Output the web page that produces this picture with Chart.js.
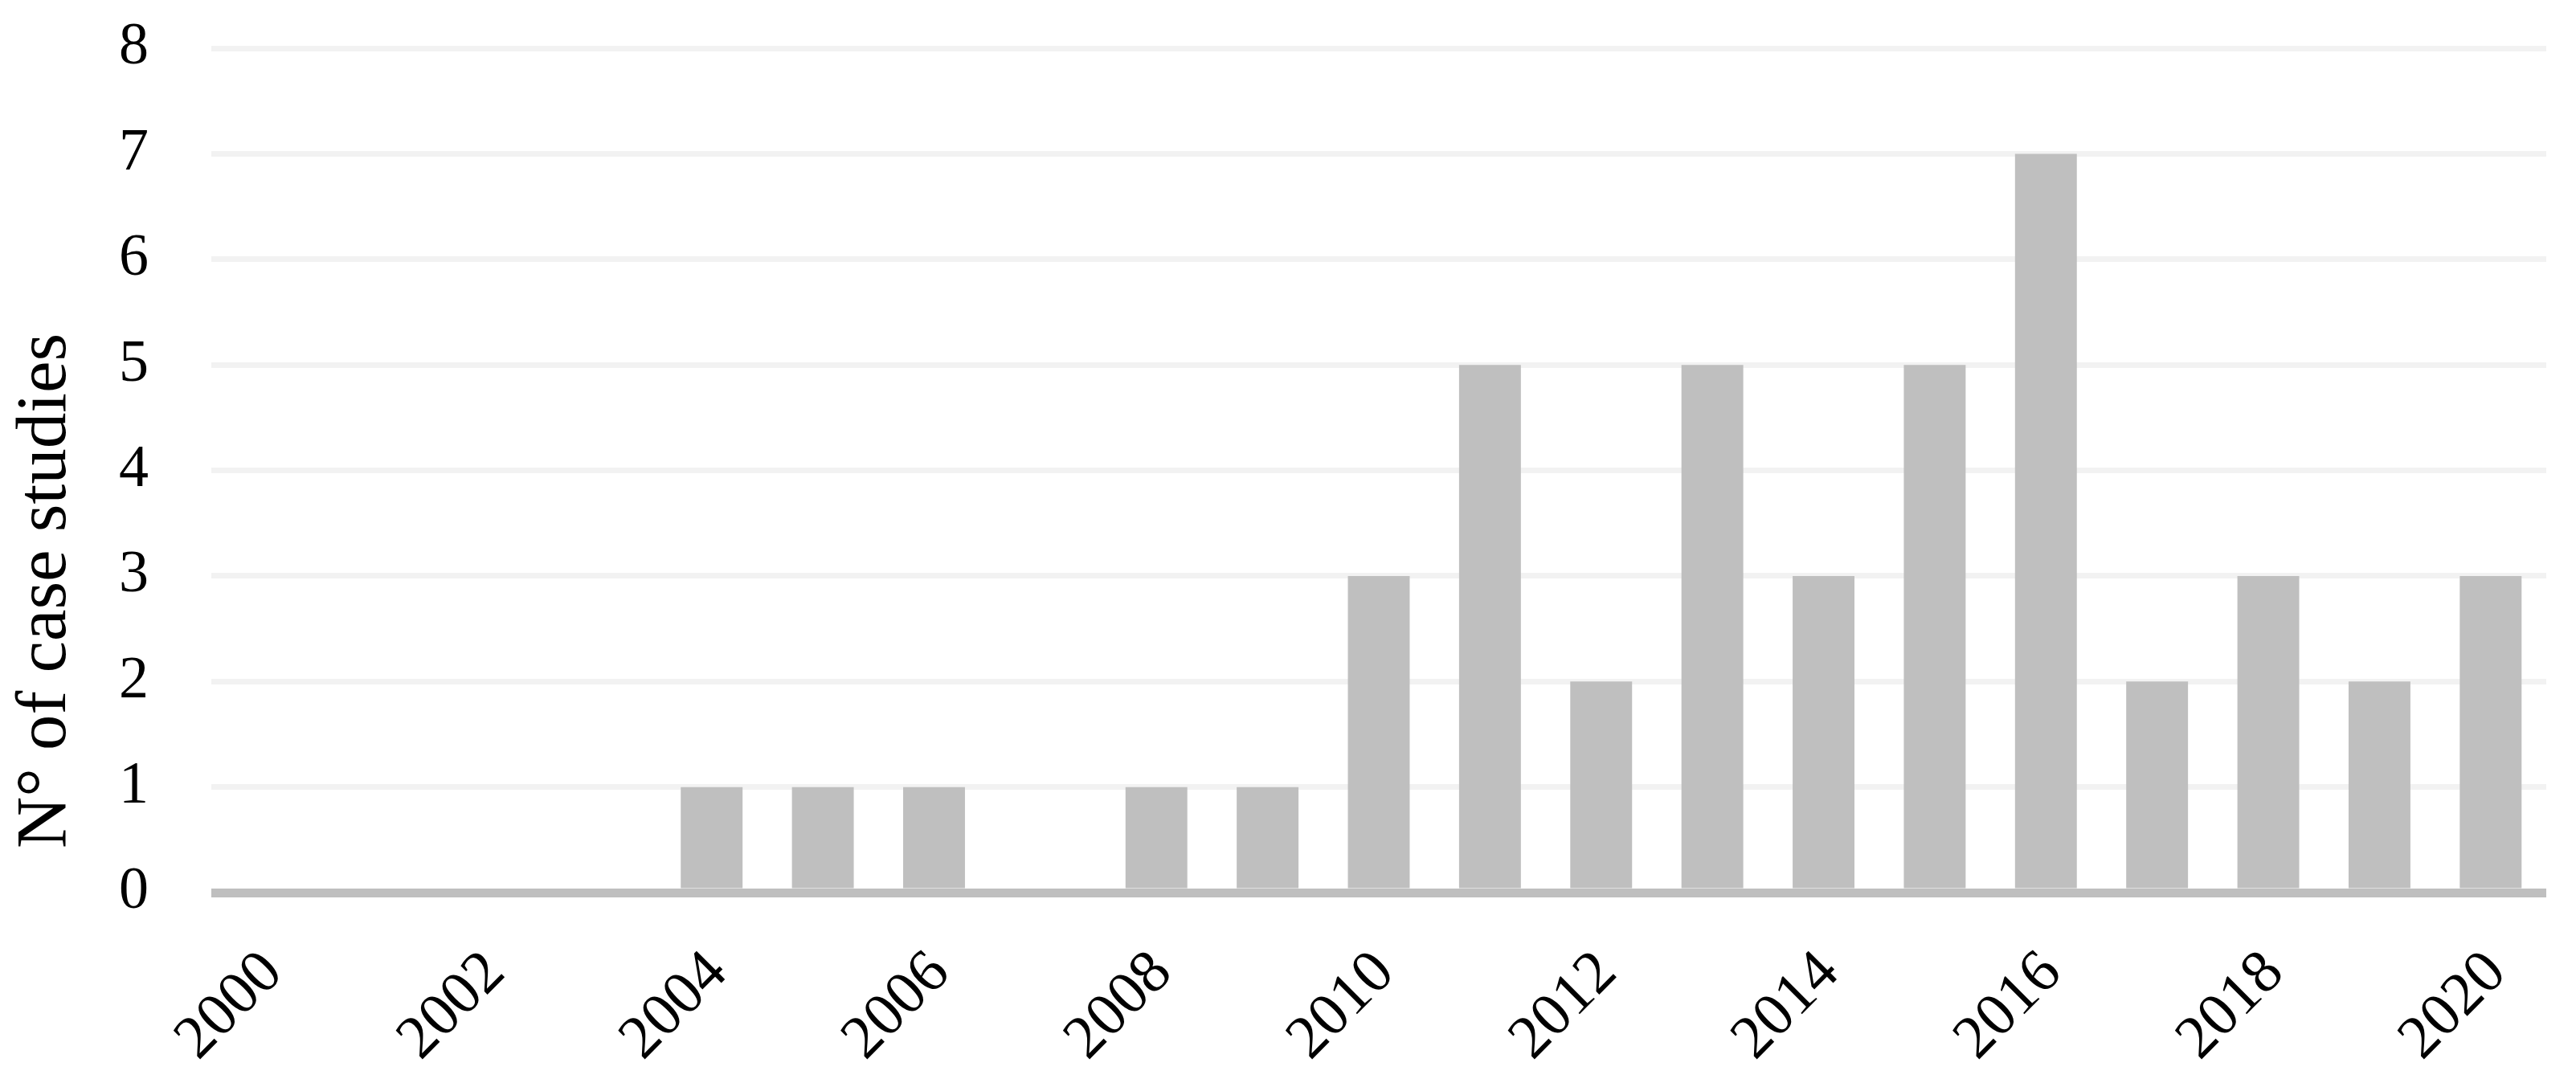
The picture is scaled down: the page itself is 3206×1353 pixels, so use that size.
<!DOCTYPE html>
<html><head><meta charset="utf-8">
<script src="https://cdn.jsdelivr.net/npm/chart.js@4.4.0/dist/chart.umd.min.js"></script>
<style>html,body{margin:0;padding:0;background:#fff;overflow:hidden}</style>
</head><body>
<canvas id="c" width="3206" height="1353" style="width:3206px;height:1353px;display:block"></canvas>
<script>
const years = ['2000','2001','2002','2003','2004','2005','2006','2007','2008','2009','2010','2011','2012','2013','2014','2015','2016','2017','2018','2019','2020'];
const caseStudies = [0,0,0,0,1,1,1,0,1,1,3,5,2,5,3,5,7,2,3,2,3];
const yTickValues = [0,1,2,3,4,5,6,7,8];
const yTitle = 'N° of case studies';

const FONT = '"Liberation Serif", "Times New Roman", serif';
const TITLE_SHIFT = 150;

const shiftTitle = {
  id: 'shiftTitle',
  beforeDraw(chart) {
    const s = chart.scales.y;
    s._savedBottom = s.bottom;
    s.bottom = s.bottom + 2 * TITLE_SHIFT;
  },
  afterDraw(chart) {
    const s = chart.scales.y;
    if (s._savedBottom !== undefined) s.bottom = s._savedBottom;
  }
};

new Chart(document.getElementById('c'), {
  type: 'bar',
  data: {
    labels: years,
    datasets: [{
      data: caseStudies,
      backgroundColor: '#bfbfbf',
      borderWidth: 0,
      categoryPercentage: 1,
      barPercentage: 0.556
    }]
  },
  options: {
    responsive: false,
    animation: false,
    devicePixelRatio: 1,
    layout: { padding: { left: 0, right: 37, top: 60, bottom: 0 } },
    plugins: { legend: { display: false }, tooltip: { enabled: false } },
    scales: {
      x: {
        grid: { display: false, drawTicks: false },
        border: { display: false },
        ticks: {
          autoSkip: false,
          minRotation: 45,
          maxRotation: 45,
          padding: 56,
          labelOffset: 8,
          color: '#000',
          font: { family: FONT, size: 76 },
          callback: function(v, i) { return i % 2 === 0 ? years[i] : ''; }
        },
        afterFit: s => { s.height = 242; s.paddingLeft = 0; s.paddingRight = 0; }
      },
      y: {
        min: 0,
        max: 8,
        afterBuildTicks: s => { s.ticks = yTickValues.map(v => ({ value: v })); },
        grid: {
          drawTicks: false,
          color: c => (c.tick && c.tick.value === 0) ? '#bfbfbf' : '#f2f2f2',
          lineWidth: c => (c.tick && c.tick.value === 0) ? 11 : 7
        },
        border: { display: false },
        ticks: {
          padding: 78,
          color: '#000',
          font: { family: FONT, size: 74 }
        },
        title: {
          display: true,
          text: yTitle,
          color: '#000',
          font: { family: FONT, size: 89, weight: 'normal' },
          padding: { top: 4, bottom: 0 }
        },
        afterFit: s => { s.width = 263; s.paddingTop = 0; s.paddingBottom = 0; }
      }
    }
  },
  plugins: [shiftTitle]
});
</script>
</body></html>
